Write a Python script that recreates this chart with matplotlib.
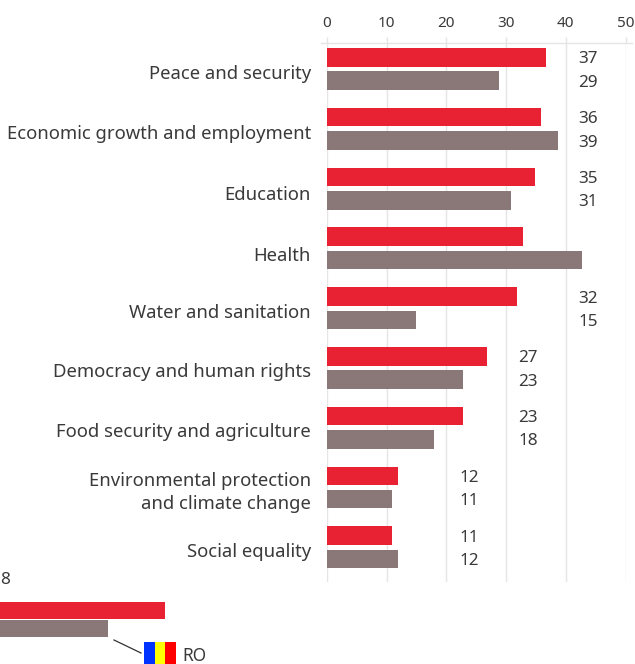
import matplotlib
matplotlib.use("Agg")
import matplotlib.pyplot as plt
from matplotlib.lines import Line2D
from matplotlib.patches import Rectangle

plt.rcParams['font.family'] = ['Noto Sans', 'DejaVu Sans']

categories = ["Peace and security", "Economic growth and employment", "Education",
              "Health", "Water and sanitation", "Democracy and human rights",
              "Food security and agriculture",
              "Environmental protection\nand climate change", "Social equality"]
red_values = [37, 36, 35, 33, 32, 27, 23, 12, 11]
grey_values = [29, 39, 31, 43, 15, 23, 18, 11, 12]
red_labels = ["37", "36", "35", "", "32", "27", "23", "12", "11"]
grey_labels = ["29", "39", "31", "", "15", "23", "18", "11", "12"]
x_ticks = [0, 10, 20, 30, 40, 50]

# legend bars run off the left edge of the picture, so these are estimates
legend_red = 38
legend_grey = 28.5
legend_label = "8"

label_columns = [44, 44, 44, 44, 44, 33.9, 33.9, 23.95, 23.95]
name_shift = [-3.6, -3.6, -4.6, -5.3, -3.6, -3.2, -3.2, -3.6, -3.2]

RED = "#e82133"
GREY = "#8a7878"
TEXT = "#3a3a3a"
LINE = "#e6e4e4"
W, H = 635, 664


def fx(px):
    return px / W


def fy(py):
    return 1 - py / H


fig = plt.figure(figsize=(W / 100, H / 100), dpi=100)
box = [fx(327), fy(582), fx(625.5 - 327), (582 - 43) / H]

# the grid in the reference runs a touch wider than the bars, so it gets its own axes
grid_ax = fig.add_axes(box)
grid_ax.set_xlim(0, 50)
grid_ax.set_yticks([])
grid_ax.set_xticks(x_ticks)
grid_ax.xaxis.tick_top()
grid_ax.tick_params(axis="x", length=4.5, width=1, color=LINE, labelcolor=TEXT,
                    labelsize=11, pad=4)
grid_ax.grid(axis="x", color=LINE, linewidth=1)
for s in grid_ax.spines.values():
    s.set_visible(False)

ax = fig.add_axes(box)
ax.patch.set_visible(False)
ax.set_xlim(0, 50.33)
ax.set_ylim(8.58, -0.435)
ax.axis("off")

for i in range(len(categories)):
    ax.barh(i - 0.195, red_values[i], height=0.31, color=RED)
    ax.barh(i + 0.195, grey_values[i], height=0.31, color=GREY)
    ax.annotate(red_labels[i], (label_columns[i], i - 0.195), xytext=(0, -1.5),
                textcoords="offset points", ha="center", va="center",
                fontsize=12.3, color=TEXT)
    ax.annotate(grey_labels[i], (label_columns[i], i + 0.195), xytext=(0, -1.5),
                textcoords="offset points", ha="center", va="center",
                fontsize=12.3, color=TEXT)
    ax.annotate(categories[i], (0, i), xytext=(-11.5, name_shift[i]), xycoords="data",
                textcoords="offset points", ha="right", va="center", fontsize=13.3,
                color=TEXT, linespacing=1.42)

fig.add_artist(Line2D([fx(321), fx(632)], [fy(43), fy(43)], color=LINE, linewidth=1))

# legend, cut off by the picture edge
leg = fig.add_axes([0, fy(639.5), fx(165), (639.5 - 599.5) / H])
leg.set_xlim(legend_red - 165 / 5.97, legend_red)
leg.set_ylim(1.05, -1.05)
leg.axis("off")
leg.barh(-0.47, legend_red, height=0.85, color=RED)
leg.barh(0.47, legend_grey, height=0.85, color=GREY)
fig.text(fx(0), fy(580), legend_label, ha="left", va="center", fontsize=12.3, color=TEXT)

fig.add_artist(Line2D([fx(114), fx(141)], [fy(640), fy(653)], color="#333333", linewidth=0.9))
flag_colors = ["#0033ff", "#ffff00", "#ff0000"]
for n, c in enumerate(flag_colors):
    fig.add_artist(Rectangle((fx(144 + n * 10.7), fy(664)), fx(10.7), 22 / H, color=c,
                             transform=fig.transFigure, linewidth=0))
fig.text(fx(182), fy(656), "RO", ha="left", va="center", fontsize=12.5, color=TEXT)

fig.savefig("out.png", dpi=100)
